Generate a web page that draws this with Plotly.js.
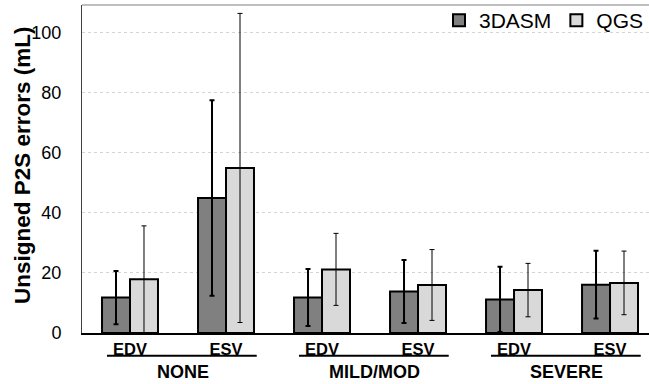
<!DOCTYPE html>
<html>
<head>
<meta charset="utf-8">
<script src="https://cdn.plot.ly/plotly-3.0.1.min.js"></script>
<style>html,body{margin:0;padding:0;background:#fff;}#chart{width:649px;height:384px;}</style>
</head>
<body>
<div id="chart"></div>
<script>
// ---- data ----
const groups = ['NONE', 'MILD/MOD', 'SEVERE'];
const measures = ['EDV', 'ESV'];
const seriesNames = ['3DASM', 'QGS'];
const asmValues = [11.8, 45.0, 11.8, 13.8, 11.2, 16.1];
const asmErrors = [8.9, 32.6, 9.5, 10.5, 10.9, 11.3];
const qgsValues = [17.9, 55.0, 21.2, 16.0, 14.3, 16.7];
const qgsErrors = [17.8, 51.5, 12.0, 11.8, 8.9, 10.6];
const yTicks = [0, 20, 40, 60, 80, 100];
const yTitle = 'Unsigned P2S errors (mL)';

// ---- build ----
const xIdx = [];
const xText = [];
groups.forEach((g, gi) => measures.forEach((m, mi) => { xIdx.push(gi * measures.length + mi); xText.push(m); }));

const FONT = 'Liberation Sans, Arial, sans-serif';

const traces = [
  {
    type: 'bar', name: seriesNames[0], x: xIdx, y: asmValues,
    marker: {color: '#808080', line: {color: '#000', width: 2}},
    error_y: {type: 'data', array: asmErrors, visible: true, color: '#000', thickness: 2, width: 2.5}
  },
  {
    type: 'bar', name: seriesNames[1], x: xIdx, y: qgsValues,
    marker: {color: '#d9d9d9', line: {color: '#000', width: 2}},
    error_y: {type: 'data', array: qgsErrors, visible: true, color: '#000', thickness: 1, width: 2.5}
  }
];

const shapes = [
  {type: 'line', xref: 'paper', yref: 'paper', x0: 0, x1: 1, y0: 1, y1: 1, line: {color: '#bfbfbf', width: 2}}
];
const annotations = [
  {xref: 'paper', yref: 'paper', x: -0.106, y: 0.512, xanchor: 'center', yanchor: 'middle', textangle: -90,
    showarrow: false, text: yTitle, font: {family: FONT, size: 22.5, color: '#000', weight: 'bold'}}
];
groups.forEach((g, gi) => {
  const first = gi * measures.length;
  const last = first + measures.length - 1;
  shapes.push({type: 'line', xref: 'x', yref: 'paper', x0: first - 0.24, x1: last + 0.32, y0: -0.069, y1: -0.069,
    line: {color: '#000', width: 2}});
  annotations.push({xref: 'x', yref: 'paper', x: (first + last) / 2 + 0.05, y: -0.119, yanchor: 'middle', showarrow: false,
    text: g, font: {family: FONT, size: 18, color: '#000', weight: 'bold'}});
});

const layout = {
  width: 649, height: 384,
  margin: {l: 82, r: 0, t: 5, b: 51},
  paper_bgcolor: '#fff', plot_bgcolor: '#fff',
  barmode: 'group', bargap: 0.417, bargroupgap: 0,
  showlegend: true,
  legend: {orientation: 'h', x: 1, xanchor: 'right', y: 1.015, yanchor: 'top',
    font: {family: FONT, size: 21, color: '#000'}, bgcolor: 'rgba(0,0,0,0)', itemwidth: 30, traceorder: 'normal'},
  xaxis: {
    range: [-0.5, 5.406], tickmode: 'array', tickvals: xIdx, ticktext: xText,
    tickfont: {family: FONT, size: 16.5, color: '#000', weight: 'bold'},
    ticks: 'outside', ticklen: 1, tickcolor: 'rgba(0,0,0,0)',
    showline: true, linecolor: '#000', linewidth: 1.5, showgrid: false, zeroline: false, fixedrange: true
  },
  yaxis: {
    range: [0, 109.3], tickmode: 'array', tickvals: yTicks,
    tickfont: {family: FONT, size: 18, color: '#000'},
    ticks: 'outside', ticklen: 16, tickcolor: 'rgba(0,0,0,0)',
    showline: true, linecolor: '#404040', linewidth: 1,
    showgrid: true, gridcolor: '#d4d4d4', griddash: 'dot', gridwidth: 1, zeroline: false,
    automargin: false, fixedrange: true
  },
  shapes: shapes,
  annotations: annotations
};

Plotly.newPlot('chart', traces, layout, {displayModeBar: false, staticPlot: true});
</script>
</body>
</html>
